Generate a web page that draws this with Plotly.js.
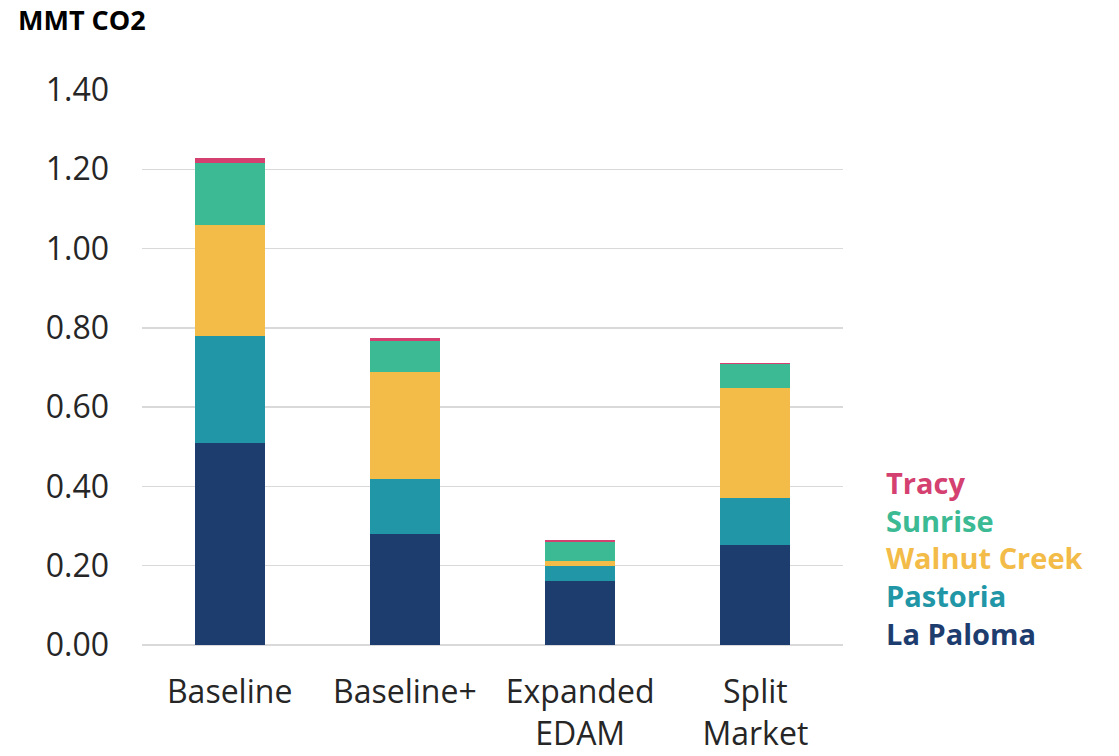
<!DOCTYPE html>
<html>
<head>
<meta charset="utf-8">
<script src="https://cdn.plot.ly/plotly-3.0.1.min.js"></script>
<style>html,body{margin:0;padding:0;background:#fff;}#chart{width:1119px;height:756px;}</style>
</head>
<body>
<div id="chart"></div>
<script>
const categories = ["Baseline", "Baseline+", "Expanded<br>EDAM", "Split<br>Market"];
const seriesNames = ["La Paloma", "Pastoria", "Walnut Creek", "Sunrise", "Tracy"];
const laPaloma = [0.510, 0.281, 0.161, 0.253];
const pastoria = [0.269, 0.139, 0.039, 0.119];
const walnutCreek = [0.281, 0.268, 0.013, 0.277];
const sunrise = [0.155, 0.078, 0.046, 0.059];
const tracy = [0.014, 0.009, 0.006, 0.003];
const seriesValues = [laPaloma, pastoria, walnutCreek, sunrise, tracy];
const seriesColors = ["#1e3d6f", "#2196a6", "#f3bb48", "#3bba94", "#d4406f"];
const yTicks = [0, 0.2, 0.4, 0.6, 0.8, 1.0, 1.2, 1.4];

const traces = seriesNames.map((n, i) => ({
  type: "bar", name: n, x: categories, y: seriesValues[i],
  marker: {color: seriesColors[i]}, hoverinfo: "x+y+name"
}));

const font = "Open Sans, Noto Sans, Liberation Sans, sans-serif";
const legendText = seriesNames.map((n, i) => '<span style="color:' + seriesColors[i] + '"><b>' + n + '</b></span>')
  .reverse().join("<br>");

const layout = {
  width: 1119, height: 756,
  margin: {l: 142, r: 276, t: 90, b: 111},
  barmode: "stack", bargap: 0.6,
  showlegend: false,
  paper_bgcolor: "#fff", plot_bgcolor: "#fff",
  font: {family: font, color: "#262626"},
  xaxis: {tickfont: {size: 32, color: "#262626"}, showline: false, ticks: "", showgrid: false, ticklabelstandoff: 25},
  yaxis: {range: [0, 1.4], tickvals: yTicks, ticktext: yTicks.map(v => v.toFixed(2)),
          tickfont: {size: 32, color: "#262626"}, gridcolor: "#d9d9d9", gridwidth: 1.5,
          zeroline: true, zerolinecolor: "#d9d9d9", zerolinewidth: 1.5, showline: false, ticks: "", ticklabelstandoff: 32},
  annotations: [{
    xref: "paper", yref: "paper", x: -126/701, y: (645 - 20) / 555, xanchor: "left", yanchor: "middle",
    showarrow: false, text: "<b>MMT CO2</b>", font: {family: font, size: 27, color: "#000"}
  }, {
    xref: "paper", yref: "paper", x: 1.058, y: (645 - 558) / 555, xanchor: "left", yanchor: "middle", align: "left",
    showarrow: false, text: legendText, font: {family: font, size: 29}
  }]
};
Plotly.newPlot("chart", traces, layout, {displayModeBar: false, staticPlot: true});
</script>
</body>
</html>
